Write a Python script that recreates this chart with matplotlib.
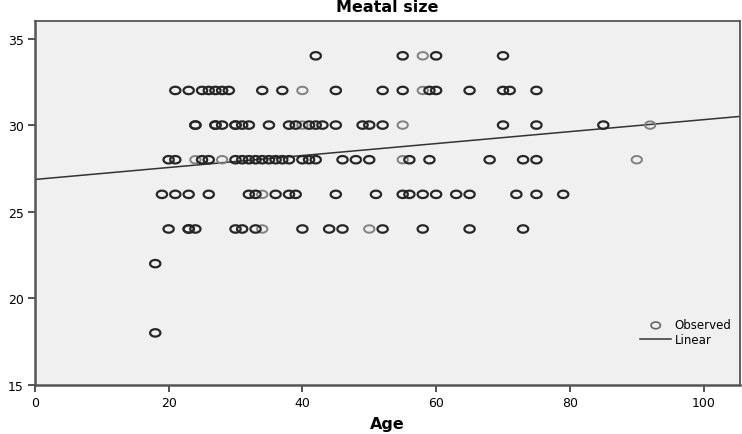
import numpy as np
import matplotlib
matplotlib.use('agg')
import matplotlib.pyplot as plt
from matplotlib.path import Path

age_34 = [42, 55, 60, 70]
age_32 = [21, 23, 25, 26, 27, 28, 29, 34, 37, 45, 52, 55, 59, 60, 65, 70, 71, 75]
age_30 = [24, 24, 27, 27, 28, 30, 30, 31, 32, 35, 38, 39, 41, 42, 43, 45, 49, 50, 52, 70, 75, 85]
age_28 = [20, 21, 25, 26, 30, 31, 32, 33, 34, 35, 36, 37, 38, 40, 41, 42, 46, 48, 50, 56, 59, 68, 73, 75]
age_26 = [19, 21, 23, 26, 32, 33, 36, 38, 39, 45, 51, 55, 56, 58, 60, 63, 65, 72, 75, 79]
age_24 = [20, 23, 23, 24, 30, 31, 33, 40, 44, 46, 52, 58, 65, 73]
age_22 = [18]
age_18 = [18]

# single (lighter) points
light_age = [58, 40, 58, 40, 55, 92, 24, 28, 55, 90, 34, 34, 50]
light_size = [34, 32, 32, 30, 30, 30, 28, 28, 28, 28, 26, 24, 24]

# linear fit line
fit_x = [0, 105.4]
fit_y = [26.86, 30.5]

rows = {34: age_34, 32: age_32, 30: age_30, 28: age_28,
        26: age_26, 24: age_24, 22: age_22, 18: age_18}
dark_age = []
dark_size = []
for s, ages in rows.items():
    dark_age += ages
    dark_size += [s] * len(ages)

# slightly squashed circle like the SPSS output
t = np.linspace(0, 2 * np.pi, 60)
ell = Path(np.column_stack([np.cos(t), 0.72 * np.sin(t)]))

plt.rcParams['font.family'] = 'DejaVu Sans'
fig = plt.figure(figsize=(7.42, 4.35), dpi=100)
ax = fig.add_axes([0.047, 0.113, 0.95, 0.836])
ax.set_facecolor('#f0f0f0')

ax.scatter(light_age, light_size, marker=ell, s=55, facecolors='none',
           edgecolors='#808080', linewidths=1.4, zorder=3)
ax.scatter(dark_age, dark_size, marker=ell, s=55, facecolors='none',
           edgecolors='#262626', linewidths=1.6, zorder=3)
ax.plot(fit_x, fit_y, color='#333333', lw=1.1, zorder=2)

# legend handles
h1 = ax.scatter([], [], marker=ell, s=45, facecolors='none',
                edgecolors='#666666', linewidths=1.2, label='Observed')
h2, = ax.plot([], [], color='#333333', lw=1.1, label='Linear')
ax.legend(handles=[h1, h2], loc='lower right', bbox_to_anchor=(1.0, 0.085),
          frameon=False, fontsize=8.5, handlelength=2.6, handletextpad=0.3,
          labelspacing=0.1, borderaxespad=0.3)

ax.set_xlim(0, 105.4)
ax.set_ylim(15, 36)
ax.set_xticks([0, 20, 40, 60, 80, 100])
ax.set_yticks([15, 20, 25, 30, 35])
ax.tick_params(direction='out', length=5, width=1.3, color='#444444',
               labelsize=9, pad=3)
for sp in ax.spines.values():
    sp.set_color('#555555')
    sp.set_linewidth(1.3)
ax.spines['left'].set_linewidth(1.8)
ax.spines['bottom'].set_linewidth(1.8)

ax.set_title('Meatal size', fontsize=11.5, fontweight='bold', pad=7)
ax.set_xlabel('Age', fontsize=11.5, fontweight='bold', labelpad=5)

fig.savefig('out.png', dpi=100)
